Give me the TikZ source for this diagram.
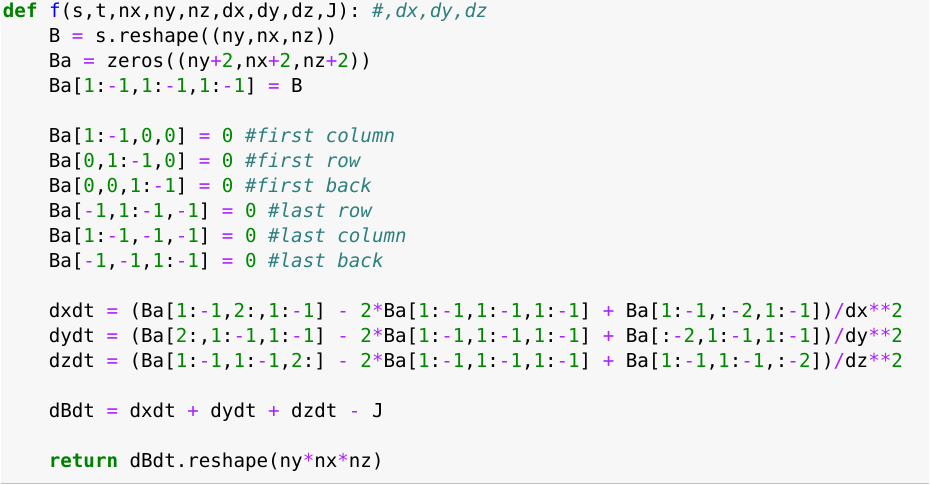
\documentclass[tikz,border=0pt]{standalone}
\usepackage{fontspec}
\setmonofont{DejaVu Sans Mono}
\definecolor{bgc}{HTML}{F7F7F7}
\definecolor{kwc}{HTML}{008000}
\definecolor{numc}{HTML}{008800}
\definecolor{opc}{HTML}{AA22FF}
\definecolor{cmc}{HTML}{2F7F7F}
\definecolor{fnc}{HTML}{0000FF}
\newcommand\K[1]{\textcolor{kwc}{\bfseries #1}}
\newcommand\F[1]{\textcolor{fnc}{#1}}
\newcommand\N[1]{\textcolor{numc}{#1}}
\newcommand\OP[1]{\textcolor{opc}{#1}}
\newcommand\CM[1]{\textcolor{cmc}{\itshape #1}}
\newcommand\RR{\N{1}:\OP{-}\N{1}}
\newcommand\MM{\OP{-}\N{1}}
\begin{document}
\begin{tikzpicture}[x=1pt,y=1pt,
  code/.style={anchor=base west,inner sep=0pt,font=\ttfamily\fontsize{19.2}{19.2}\selectfont}]
\fill[bgc] (0,0) rectangle (930,485);
\draw[black!25,line width=1.5pt] (0,0.75) -- (930,0.75);
\useasboundingbox (0,0) rectangle (930,485);
\newcommand\Y[1]{485-18-25*#1}
\node[code] (l0) at (2,{\Y{0}}) {\K{def} \F{f}(s,t,nx,ny,nz,dx,dy,dz,J): \CM{\#,dx,dy,dz}};
\node[code] (l1) at (48,{\Y{1}}) {B \OP{=} s.reshape((ny,nx,nz))};
\node[code] (l2) at (48,{\Y{2}}) {Ba \OP{=} zeros((ny\OP{+}\N{2},nx\OP{+}\N{2},nz\OP{+}\N{2}))};
\node[code] (l3) at (48,{\Y{3}}) {Ba[\RR,\RR,\RR] \OP{=} B};
\node[code] (l5) at (48,{\Y{5}}) {Ba[\RR,\N{0},\N{0}] \OP{=} \N{0} \CM{\#first column}};
\node[code] (l6) at (48,{\Y{6}}) {Ba[\N{0},\RR,\N{0}] \OP{=} \N{0} \CM{\#first row}};
\node[code] (l7) at (48,{\Y{7}}) {Ba[\N{0},\N{0},\RR] \OP{=} \N{0} \CM{\#first back}};
\node[code] (l8) at (48,{\Y{8}}) {Ba[\MM,\RR,\MM] \OP{=} \N{0} \CM{\#last row}};
\node[code] (l9) at (48,{\Y{9}}) {Ba[\RR,\MM,\MM] \OP{=} \N{0} \CM{\#last column}};
\node[code] (l10) at (48,{\Y{10}}) {Ba[\MM,\MM,\RR] \OP{=} \N{0} \CM{\#last back}};
\node[code] (l12) at (48,{\Y{12}}) {dxdt \OP{=} (Ba[\RR,\N{2}:,\RR] \OP{-} \N{2}\OP{*}Ba[\RR,\RR,\RR] \OP{+} Ba[\RR,:\OP{-}\N{2},\RR])\OP{/}dx\OP{**}\N{2}};
\node[code] (l13) at (48,{\Y{13}}) {dydt \OP{=} (Ba[\N{2}:,\RR,\RR] \OP{-} \N{2}\OP{*}Ba[\RR,\RR,\RR] \OP{+} Ba[:\OP{-}\N{2},\RR,\RR])\OP{/}dy\OP{**}\N{2}};
\node[code] (l14) at (48,{\Y{14}}) {dzdt \OP{=} (Ba[\RR,\RR,\N{2}:] \OP{-} \N{2}\OP{*}Ba[\RR,\RR,\RR] \OP{+} Ba[\RR,\RR,:\OP{-}\N{2}])\OP{/}dz\OP{**}\N{2}};
\node[code] (l16) at (48,{\Y{16}}) {dBdt \OP{=} dxdt \OP{+} dydt \OP{+} dzdt \OP{-} J};
\node[code] (l18) at (48,{\Y{18}}) {\K{return} dBdt.reshape(ny\OP{*}nx\OP{*}nz)};
\end{tikzpicture}
\end{document}
